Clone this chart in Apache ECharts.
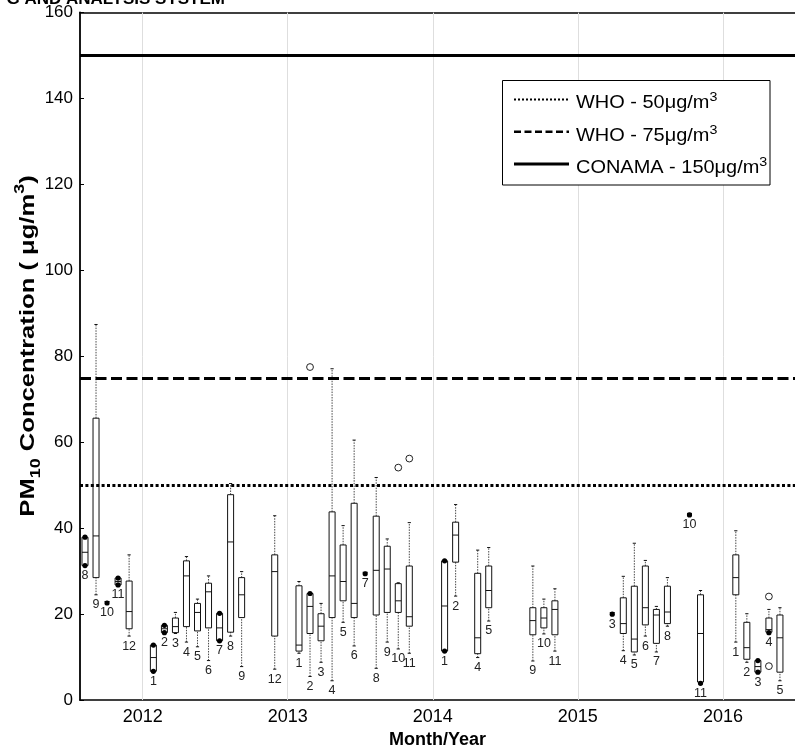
<!DOCTYPE html>
<html><head><meta charset="utf-8">
<script src="https://cdn.jsdelivr.net/npm/echarts@6/dist/echarts.min.js"></script>
<style>html,body{margin:0;padding:0;background:#fff}#c{width:795px;height:754px}</style>
</head><body><div id="c"></div>
<script>
// ---- data ----
const years  = [2011,2011,2011,2011,2011, 2012,2012,2012,2012,2012,2012,2012,2012,2012,2012, 2013,2013,2013,2013,2013,2013,2013,2013,2013,2013,2013, 2014,2014,2014,2014,2014,2014,2014, 2015,2015,2015,2015,2015,2015,2015,2015, 2016,2016,2016,2016,2016];
const months = [8,9,10,11,12, 1,2,3,4,5,6,7,8,9,12, 1,2,3,4,5,6,7,8,9,10,11, 1,2,4,5,9,10,11, 3,4,5,6,7,8,10,11, 1,2,3,4,5];
const lows    = [31.3,24.5,22.6,26.8,14.9, 6.7,15.7,15.5,13.5,12.4,9.2,13.8,14.9,7.8,7.2, 10.9,5.5,8.8,4.5,18.1,12.6,29.4,7.4,13.5,11.9,10.9, 11.4,24.2,9.9,18.4,9.1,15.4,11.4, 20.0,11.5,10.5,14.9,11.2,17.2,43.1,3.9, 13.5,8.8,6.5,15.7,4.5];
const q1s     = [31.3,28.5,22.6,26.8,16.6, 6.7,15.7,15.7,17.1,16.1,16.8,13.8,15.8,19.2,14.9, 11.4,15.5,13.8,19.2,23.1,19.2,29.4,19.8,20.4,20.4,17.2, 11.4,32.1,10.8,21.5,15.2,16.8,15.2, 20.0,15.5,11.2,17.5,13.2,17.8,43.1,4.2, 24.5,9.5,6.5,15.8,6.5];
const medians = [34.4,38.2,22.6,27.6,20.6, 9.9,16.6,17.1,28.9,20.4,25.2,16.8,36.8,24.5,29.9, 12.8,21.8,17.2,28.9,27.6,22.5,29.4,30.2,30.5,23.1,19.4, 21.9,38.4,14.5,25.5,18.5,19.1,21.1, 20.0,17.8,14.2,21.5,19.8,20.5,43.1,15.5, 28.5,12.2,7.8,16.4,14.5];
const q3s     = [37.9,65.6,22.6,28.4,27.7, 12.8,17.4,19.1,32.4,22.5,27.2,20.2,47.8,28.5,33.8, 26.6,24.8,20.1,43.8,36.1,45.8,29.4,42.8,35.8,27.1,31.2, 32.4,41.4,29.5,31.2,21.5,21.5,23.1, 20.0,23.8,26.5,31.2,21.1,26.5,43.1,24.5, 33.8,18.1,9.2,19.1,19.8];
const highs   = [37.9,87.4,22.6,28.4,33.8, 12.8,17.4,20.4,33.4,23.5,28.9,20.2,50.4,29.9,42.9, 27.6,24.8,22.5,77.1,40.6,60.5,29.4,51.8,37.5,27.3,41.3, 32.4,45.5,34.9,35.5,31.2,23.5,25.9, 20.0,28.8,36.5,32.5,21.8,28.5,43.1,25.5, 39.4,20.1,9.2,21.1,21.5];
const dotEnds = ['both','','single','both','', 'both','both','','','','','both','','','', '','top','','','','','single','','','','', 'both','','','','','','', 'single','','','','','','single','bottom', '','','both','bottom',''];
const outliers = [[],[],[],[],[], [],[],[],[],[],[],[],[],[],[], [],[77.5],[],[],[],[],[],[],[],[54.1],[56.2], [],[],[],[],[],[],[], [],[],[],[],[],[],[],[], [],[],[],[24.1,7.9],[]];
const yearTicks = [2012,2013,2014,2015,2016];
const refLevels = [50, 75, 150];
const refNames = ['WHO - 50\u03bcg/m', 'WHO - 75\u03bcg/m', 'CONAMA - 150\u03bcg/m'];

// ---- layout helpers (month slots on a value axis) ----
const slotsPerYear = 13.2;
const posOf = (y, m) => (y - 2012) * slotsPerYear + m;
const yearPos = y => (y - 2012) * 13.15 + 0.03;
const yearStarts = yearTicks.map(yearPos);
const FONT = '"Liberation Sans", Arial, sans-serif';

const boxData = years.map((y, i) => [posOf(y, months[i]), lows[i], q1s[i], medians[i], q3s[i], highs[i], i]);

function renderBox(params, api) {
  const i = api.value(6);
  const p = api.value(0);
  const X = api.coord([p, 0])[0];
  const Y = v => api.coord([p, v])[1];
  const lo = api.value(1), q1 = api.value(2), md = api.value(3), q3 = api.value(4), hi = api.value(5);
  const hw = 3, cw = 1.6;
  const ch = [];
  const whisk = {stroke: '#333', lineWidth: 0.9, lineDash: [1.5, 1.2], fill: null};
  const solid = {stroke: '#111', lineWidth: 1, fill: null};
  const kind = dotEnds[i];
  if (kind !== 'single') {
    if (hi > q3) {
      ch.push({type: 'line', shape: {x1: X, y1: Y(q3), x2: X, y2: Y(hi)}, style: whisk});
      ch.push({type: 'line', shape: {x1: X - cw, y1: Y(hi), x2: X + cw, y2: Y(hi)}, style: solid});
    }
    if (q1 > lo) {
      ch.push({type: 'line', shape: {x1: X, y1: Y(lo), x2: X, y2: Y(q1)}, style: whisk});
      ch.push({type: 'line', shape: {x1: X - cw, y1: Y(lo), x2: X + cw, y2: Y(lo)}, style: solid});
    }
    ch.push({type: 'rect', shape: {x: X - hw, y: Y(q3), width: 2 * hw, height: Y(q1) - Y(q3)}, style: {stroke: '#111', lineWidth: 1, fill: null}});
    ch.push({type: 'line', shape: {x1: X - hw, y1: Y(md), x2: X + hw, y2: Y(md)}, style: solid});
  }
  const dot = v => ch.push({type: 'circle', shape: {cx: X, cy: Y(v), r: 2.6}, style: {fill: '#000', stroke: null}});
  if (kind === 'both' || kind === 'top') dot(hi);
  if (kind === 'both' || kind === 'bottom') dot(lo);
  if (kind === 'single') {
    dot(md);
    ch.push({type: 'line', shape: {x1: X - 2.5, y1: Y(md) - 1.5, x2: X + 2.5, y2: Y(md) - 1.5}, style: {stroke: '#000', lineWidth: 1}});
  }
  (outliers[i] || []).forEach(v => ch.push({type: 'circle', shape: {cx: X, cy: Y(v), r: 3.4}, style: {fill: null, stroke: '#222', lineWidth: 1}}));
  ch.push({type: 'text', style: {text: String(months[i]), x: X, y: Y(lo) + 10, align: 'center', verticalAlign: 'middle', fontSize: 12.5, fontFamily: FONT, fill: '#222'}});
  return {type: 'group', children: ch};
}

const chart = echarts.init(document.getElementById('c'), null, {renderer: 'canvas'});
const xMin = -5.652, xMax = 59.165;
const yearFmt = v => String(Math.round((v - 0.03) / 13.15) + 2012);

const lineStyles = [
  {type: [3, 2.4], width: 3, color: '#000', cap: 'butt'},
  {type: [11, 4.5], width: 3, color: '#000', cap: 'butt'},
  {type: 'solid', width: 3, color: '#000'}
];
const legendStyles = [
  {lineDash: [2, 2], lineWidth: 2},
  {lineDash: [7, 3.5], lineWidth: 2.5},
  {lineDash: null, lineWidth: 3}
];

const legendItems = [];
refNames.forEach((name, k) => {
  const yL = 99.5 + k * 32.3;
  legendItems.push({type: 'line', z: 101, shape: {x1: 514, y1: yL, x2: 569, y2: yL}, style: Object.assign({stroke: '#000', fill: null}, legendStyles[k])});
  legendItems.push({type: 'text', z: 101, x: 576, y: yL + 4, scaleX: 1.14, style: {
    text: '{b|' + name + '}{s|3}', align: 'left', verticalAlign: 'middle', fill: '#000', fontSize: 17.5, fontFamily: FONT,
    rich: {b: {fontSize: 17.5, fontFamily: FONT, fill: '#000', lineHeight: 24}, s: {fontSize: 12.5, fontFamily: FONT, fill: '#000', lineHeight: 10, verticalAlign: 'top'}}
  }});
});

chart.setOption({
  animation: false,
  backgroundColor: '#fff',
  grid: {left: 80, right: -9, top: 12.5, bottom: 45, containLabel: false},
  xAxis: [{
    type: 'value', min: xMin, max: xMax, position: 'bottom',
    axisLine: {show: true, onZero: false, lineStyle: {color: '#000', width: 1.5}},
    axisTick: {show: true, inside: true, length: 3, customValues: yearStarts, lineStyle: {color: '#000'}},
    axisLabel: {show: true, customValues: yearStarts, formatter: yearFmt, fontSize: 18, fontFamily: FONT, color: '#000', margin: 8},
    splitLine: {show: false},
    name: 'Month/Year', nameLocation: 'middle', nameGap: 27,
    nameTextStyle: {fontSize: 18, fontWeight: 'bold', fontFamily: FONT, color: '#000'}
  }, {
    type: 'value', min: xMin, max: xMax, position: 'top',
    axisLine: {show: true, onZero: false, lineStyle: {color: '#000', width: 1.5}},
    axisTick: {show: true, inside: true, length: 3, customValues: yearStarts, lineStyle: {color: '#000'}},
    axisLabel: {show: false}, splitLine: {show: false}
  }],
  yAxis: [{
    type: 'value', min: 0, max: 160, interval: 20,
    axisLine: {show: true, onZero: false, lineStyle: {color: '#000', width: 1.8}},
    axisTick: {show: true, inside: true, length: 4, lineStyle: {color: '#000'}},
    axisLabel: {fontSize: 17, fontFamily: FONT, color: '#000', margin: 7},
    splitLine: {show: false}
  }],
  series: [{
    type: 'line', data: [], z: 1, silent: true,
    markLine: {silent: true, symbol: 'none', animation: false, label: {show: false},
      data: yearStarts.map(v => ({xAxis: v, lineStyle: {color: '#dedede', width: 1, type: 'solid'}}))}
  }, {
    type: 'line', data: [], z: 3, silent: true,
    markLine: {silent: true, symbol: 'none', animation: false, label: {show: false},
      data: refLevels.map((v, k) => ({yAxis: v, lineStyle: lineStyles[k]}))}
  }, {
    type: 'custom', z: 4, silent: true, clip: false,
    encode: {x: 0, y: [1, 2, 3, 4, 5]},
    renderItem: renderBox,
    data: boxData
  }],
  graphic: [
    {type: 'text', x: 225, y: 7.5, style: {text: 'G AND ANALYSIS SYSTEM', align: 'right', verticalAlign: 'bottom', fontSize: 17, fontWeight: 'bold', fontFamily: FONT, fill: '#000'}},
    {type: 'text', x: 28, y: 346, rotation: Math.PI / 2, scaleX: 1.28, style: {
      text: '{b|PM}{sub|10}{b| Concentration ( \u03bcg/m}{sup|3}{b|)}', align: 'center', verticalAlign: 'middle',
      rich: {
        b: {fontSize: 20, fontWeight: 'bold', fontFamily: FONT, fill: '#000', lineHeight: 30},
        sub: {fontSize: 14, fontWeight: 'bold', fontFamily: FONT, fill: '#000', lineHeight: 12, verticalAlign: 'bottom'},
        sup: {fontSize: 14, fontWeight: 'bold', fontFamily: FONT, fill: '#000', lineHeight: 18, verticalAlign: 'top'}
      }
    }},
    {type: 'rect', z: 100, shape: {x: 502.5, y: 80.5, width: 267.5, height: 104.5}, style: {fill: '#fff', stroke: '#000', lineWidth: 1}}
  ].concat(legendItems)
});
</script>
</body></html>
